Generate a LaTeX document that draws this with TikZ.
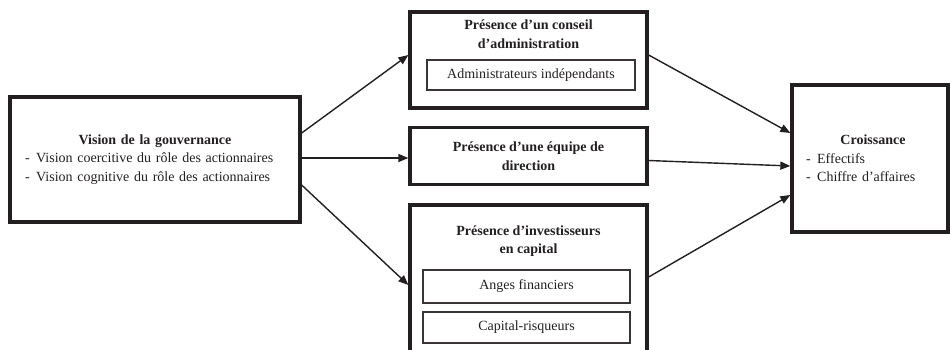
\documentclass[tikz,border=0pt]{standalone}
\usepackage{fontspec}
\setmainfont{Liberation Serif}
\usetikzlibrary{arrows.meta}
\definecolor{ink}{RGB}{35,31,32}
\begin{document}
\begin{tikzpicture}[x=1pt,y=-1pt,
  font=\fontsize{14}{18.5}\selectfont, text=ink,
  bigbox/.style={draw=ink, line width=3.3pt, rectangle, inner sep=0pt},
  subbox/.style={draw=ink!90, line width=1.2pt, rectangle, inner sep=0pt},
  ttl/.style={font=\fontsize{14}{18.5}\selectfont\bfseries, align=center, inner sep=0pt},
  conn/.style={draw=ink, line width=1.4pt, -{Triangle[length=10pt,width=8pt]}}]
\useasboundingbox (0,0) rectangle (950,349);
\clip (0,0) rectangle (950,349);

% left box
\node[bigbox, minimum width=290pt, minimum height=125pt, text width=260pt, align=left] (L) at (155,159.5)
  {\makebox[260pt][c]{\textbf{Vision de la gouvernance}}\\
   -\hspace{6.5pt}Vision coercitive du rôle des actionnaires\\
   -\hspace{6.5pt}Vision cognitive du rôle des actionnaires};

% top middle box
\node[bigbox, minimum width=237pt, minimum height=96pt] (T) at (528.5,60) {};
\node[ttl] (Tt) at (528.5,34) {Présence d’un conseil\\d’administration};
\node[subbox, minimum width=208pt, minimum height=30pt] (Ta) at (531,75) {Administrateurs indépendants};

% middle box
\node[bigbox, minimum width=237pt, minimum height=57pt, align=center, font=\fontsize{14}{18.5}\selectfont\bfseries] (M) at (528.5,156)
  {Présence d’une équipe de\\direction};

% bottom middle box
\node[bigbox, minimum width=237pt, minimum height=160pt] (B) at (528.5,285) {};
\node[ttl] (Bt) at (528.5,241) {Présence d’investisseurs\\en capital};
\node[subbox, minimum width=207pt, minimum height=33pt] (Ba) at (526.5,286.5) {Anges financiers};
\node[subbox, minimum width=207pt, minimum height=31pt] (Bc) at (526.5,327.5) {Capital-risqueurs};

% right box
\node[bigbox, minimum width=156pt, minimum height=147pt, text width=128pt, align=left] (R) at (870,158.5)
  {\makebox[134pt][c]{\textbf{Croissance}}\\
   -\hspace{6.5pt}Effectifs\\
   -\hspace{6.5pt}Chiffre d’affaires};

% connectors
\draw[conn] ([yshift=26.5pt]L.east) -- ([yshift=5pt]T.west);
\draw[conn] ([yshift=1.5pt]L.east) -- ([yshift=-2pt]M.west);
\draw[conn] ([yshift=-25.5pt]L.east) -- (B.west);
\draw[conn] ([yshift=5pt]T.east) -- ([yshift=25.5pt]R.west);
\draw[conn] ([yshift=-4.5pt]M.east) -- ([yshift=-7.5pt]R.west);
\draw[conn] ([yshift=8pt]B.east) -- ([yshift=-36.5pt]R.west);
\end{tikzpicture}
\end{document}
